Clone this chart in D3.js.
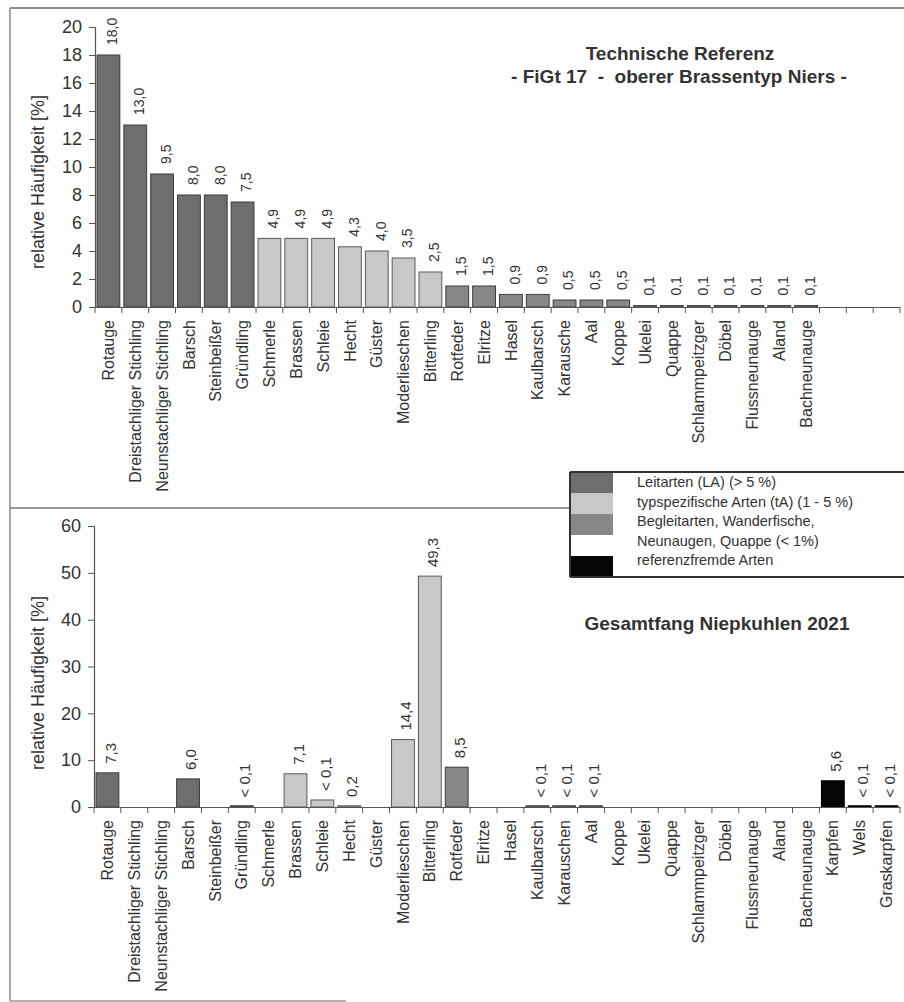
<!DOCTYPE html>
<html><head><meta charset="utf-8">
<script src="https://cdn.jsdelivr.net/npm/d3@7"></script>
<style>
body{margin:0;background:#fff}
svg{display:block}
text{font-family:"Liberation Sans",Arial,Helvetica,sans-serif;fill:#333}
</style>
</head><body>
<svg id="chart" width="904" height="1002"></svg>
<script>
// ---------- data ----------
const categoriesTop = ["Rotauge","Dreistachliger Stichling","Neunstachliger Stichling","Barsch","Steinbeißer","Gründling","Schmerle","Brassen","Schleie","Hecht","Güster","Moderlieschen","Bitterling","Rotfeder","Elritze","Hasel","Kaulbarsch","Karausche","Aal","Koppe","Ukelei","Quappe","Schlammpeitzger","Döbel","Flussneunauge","Aland","Bachneunauge","","",""];
const valuesTop = [18.0,13.0,9.5,8.0,8.0,7.5,4.9,4.9,4.9,4.3,4.0,3.5,2.5,1.5,1.5,0.9,0.9,0.5,0.5,0.5,0.1,0.1,0.1,0.1,0.1,0.1,0.1,0,0,0];
const groupsTop = ["LA","LA","LA","LA","LA","LA","tA","tA","tA","tA","tA","tA","tA","BA","BA","BA","BA","BA","BA","BA","BA","BA","BA","BA","BA","BA","BA","","",""];

const categoriesBottom = ["Rotauge","Dreistachliger Stichling","Neunstachliger Stichling","Barsch","Steinbeißer","Gründling","Schmerle","Brassen","Schleie","Hecht","Güster","Moderlieschen","Bitterling","Rotfeder","Elritze","Hasel","Kaulbarsch","Karauschen","Aal","Koppe","Ukelei","Quappe","Schlammpeitzger","Döbel","Flussneunauge","Aland","Bachneunauge","Karpfen","Wels","Graskarpfen"];
const valuesBottom = [7.3,0,0,6.0,0,0.1,0,7.1,1.5,0.2,0,14.4,49.3,8.5,0,0,0.1,0.1,0.1,0,0,0,0,0,0,0,0,5.6,0.1,0.1];
const labelsBottom = ["7,3","","","6,0","","< 0,1","","7,1","< 0,1","0,2","","14,4","49,3","8,5","","","< 0,1","< 0,1","< 0,1","","","","","","","","","5,6","< 0,1","< 0,1"];
const groupsBottom = ["LA","LA","LA","LA","LA","LA","tA","tA","tA","tA","tA","tA","tA","BA","BA","BA","BA","BA","BA","BA","BA","BA","BA","BA","BA","BA","BA","RF","RF","RF"];

const ticksTop = [0,2,4,6,8,10,12,14,16,18,20];
const ticksBottom = [0,10,20,30,40,50,60];

const legendLabels = ["Leitarten (LA) (> 5 %)","typspezifische Arten (tA) (1 - 5 %)","Begleitarten, Wanderfische,","Neunaugen, Quappe (< 1%)","referenzfremde Arten"];
const legendGroups = ["LA","tA","BA","","RF"];

const groupColor = {LA:"#6e6e6e", tA:"#c8c8c8", BA:"#878787", RF:"#050505", "":"#ffffff"};
const groupStroke = {LA:"#3c3c3c", tA:"#5a5a5a", BA:"#3c3c3c", RF:"#000000"};

// ---------- drawing ----------
const svg = d3.select("#chart");
const fmt = v => d3.format(".1f")(v).replace(".", ",");

// frame
svg.append("line").attr("x1",10).attr("x2",904).attr("y1",8).attr("y2",8).attr("stroke","#666").attr("stroke-width",1.5);
svg.append("line").attr("x1",10).attr("x2",10).attr("y1",8).attr("y2",1001).attr("stroke","#888").attr("stroke-width",1.5);
svg.append("line").attr("x1",10).attr("x2",570).attr("y1",508).attr("y2",508).attr("stroke","#777").attr("stroke-width",1.5);
svg.append("line").attr("x1",10).attr("x2",346).attr("y1",1001).attr("y2",1001).attr("stroke","#999").attr("stroke-width",1.5);

function panel(cfg){
  const n = cfg.categories.length;
  const idx = d3.range(n);
  const x = d3.scaleBand().domain(idx).range([cfg.x0, cfg.x1]).paddingInner(0.15).paddingOuter(0.075);
  const y = d3.scaleLinear().domain([0, cfg.ymax]).range([cfg.yBottom, cfg.yTop]);
  const g = svg.append("g");

  // y axis
  const ya = g.append("g").attr("transform",`translate(${cfg.x0},0)`)
    .call(d3.axisLeft(y).tickValues(cfg.ticks).tickSize(6).tickPadding(7).tickFormat(d3.format("d")));
  ya.select(".domain").attr("stroke","#555").attr("stroke-width",1.2);
  ya.selectAll(".tick line").attr("stroke","#555");
  ya.selectAll(".tick text").attr("font-size",18).attr("fill","#333").style("font-family",'"Liberation Sans",Arial,sans-serif');

  // y title
  g.append("text").attr("transform",`translate(44,${cfg.titleY}) rotate(-90)`)
    .attr("text-anchor","middle").attr("font-size",18).text("relative Häufigkeit [%]");

  // bars
  const data = idx.filter(i => cfg.values[i] > 0);
  g.selectAll("rect.bar").data(data).join("rect").attr("class","bar")
    .attr("x", i => x(i)).attr("width", x.bandwidth())
    .attr("y", i => Math.min(y(cfg.values[i]), cfg.yBottom-1.2))
    .attr("height", i => Math.max(cfg.yBottom - y(cfg.values[i]), 1.2))
    .attr("fill", i => groupColor[cfg.groups[i]])
    .attr("stroke", i => groupStroke[cfg.groups[i]]).attr("stroke-width",1);

  // x axis line and separator ticks
  const xa = g.append("g").attr("transform",`translate(0,${cfg.yBottom})`)
    .call(d3.axisBottom(x).tickSize(0).tickPadding(0).tickFormat(i => cfg.categories[i]));
  xa.select(".domain").attr("stroke","#555").attr("stroke-width",1.2);
  xa.selectAll(".tick text")
    .attr("font-size",16).attr("fill","#333")
    .style("font-family",'"Liberation Sans",Arial,sans-serif')
    .attr("text-anchor","end").attr("dy","0.35em")
    .attr("transform","translate(0,13) rotate(-90)").attr("x",0).attr("y",0);
  const step = x.step();
  g.selectAll("line.sep").data(d3.range(n+1)).join("line").attr("class","sep")
    .attr("x1", i => cfg.x0 + i*step).attr("x2", i => cfg.x0 + i*step)
    .attr("y1", cfg.yBottom).attr("y2", cfg.yBottom + 6)
    .attr("stroke","#555").attr("stroke-width",1);

  // value labels
  const lab = idx.filter(i => cfg.labels[i] !== "");
  g.selectAll("text.val").data(lab).join("text").attr("class","val")
    .attr("transform", i => `translate(${x(i)+x.bandwidth()/2+cfg.labelDx},${y(cfg.values[i]) - cfg.gap}) rotate(-90)`)
    .attr("text-anchor","start").attr("dy","0.35em").attr("font-size",cfg.valSize)
    .text(i => cfg.labels[i]);
}

panel({
  categories: categoriesTop, values: valuesTop, groups: groupsTop,
  labels: valuesTop.map(v => v > 0 ? fmt(v) : ""),
  ticks: ticksTop, ymax: 20, x0: 95, x1: 900, yTop: 27, yBottom: 307,
  titleY: 182, gap: 10, labelDx: 4, valSize: 14
});
panel({
  categories: categoriesBottom, values: valuesBottom, groups: groupsBottom,
  labels: labelsBottom,
  ticks: ticksBottom, ymax: 60, x0: 94, x1: 900, yTop: 526, yBottom: 807,
  titleY: 683, gap: 9, labelDx: 3, valSize: 15
});

// titles
svg.append("text").attr("x",680).attr("y",60).attr("text-anchor","middle")
  .attr("font-size",19).attr("font-weight","bold").attr("fill","#222").text("Technische Referenz");
svg.append("text").attr("x",679).attr("y",83).attr("text-anchor","middle")
  .attr("font-size",19).attr("font-weight","bold").attr("fill","#222")
  .style("white-space","pre").text("- FiGt 17  -  oberer Brassentyp Niers -");
svg.append("text").attr("x",717).attr("y",630).attr("text-anchor","middle")
  .attr("font-size",19).attr("font-weight","bold").attr("fill","#222").text("Gesamtfang Niepkuhlen 2021");

// legend
const lg = svg.append("g");
lg.append("rect").attr("x",570).attr("y",472).attr("width",340).attr("height",105)
  .attr("fill","#fff");
const swY = [472,493,514,535,556];
const swH = [21,21,21,21,21];
lg.selectAll("rect.sw").data(d3.range(legendLabels.length)).join("rect").attr("class","sw")
  .attr("x",571).attr("y", i => swY[i]).attr("width",42).attr("height", i => swH[i])
  .attr("fill", i => groupColor[legendGroups[i]]);
lg.selectAll("text.lt").data(legendLabels).join("text").attr("class","lt")
  .attr("x",637).attr("y",(d,i) => 487 + i*19.5)
  .attr("font-size",14.5).attr("fill","#333").text(d => d);
lg.append("line").attr("x1",570).attr("x2",904).attr("y1",472).attr("y2",472).attr("stroke","#333").attr("stroke-width",2);
lg.append("line").attr("x1",570).attr("x2",904).attr("y1",577).attr("y2",577).attr("stroke","#333").attr("stroke-width",2);
lg.append("line").attr("x1",570).attr("x2",570).attr("y1",472).attr("y2",577).attr("stroke","#333").attr("stroke-width",2);
</script>
</body></html>
